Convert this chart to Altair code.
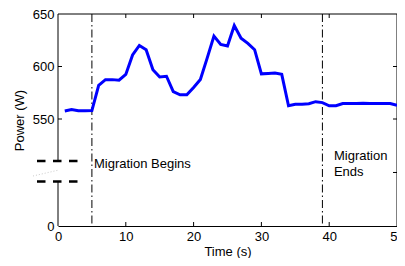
import altair as alt
import pandas as pd

# ---- data ----
time_s = list(range(1, 51))
power_w = [557.6, 559.0, 557.8, 557.8, 558.0, 582.0, 587.5, 587.5, 587.0, 592.5,
           611.0, 620.0, 616.0, 597.0, 590.0, 590.7, 576.0, 573.0, 573.0, 580.0,
           587.6, 608.0, 629.0, 621.0, 619.5, 639.0, 627.0, 622.0, 616.0, 593.0,
           593.3, 593.7, 592.5, 562.6, 564.0, 564.0, 564.5, 566.5, 565.6, 562.6,
           562.6, 564.7, 564.7, 564.7, 565.0, 564.8, 564.7, 564.7, 564.7, 563.0]
event_times = [5, 39]
x_ticks = [0, 10, 20, 30, 40, 50]
y_ticks = [0, 550, 600, 650]
break_low, break_high = 350, 510

W, H = 339, 212
FONT = "Liberation Sans"

df = pd.DataFrame({"t": time_s, "p": power_w})
ev = pd.DataFrame({"t": event_times})

xs = alt.Scale(domain=[0, 50], nice=False, zero=False)
ys = alt.Scale(domain=[0, break_high, 650], range=[H, 147, 0], nice=False, zero=False)

xaxis = alt.Axis(values=x_ticks, grid=False, ticks=False, domain=True, domainColor="black",
                 domainWidth=1, labelFont=FONT, labelFontSize=13, labelColor="black",
                 labelFlush=False, labelPadding=4, title="Time (s)", titleFont=FONT,
                 titleFontSize=13, titleFontWeight="normal", titleColor="black", titlePadding=2)
yaxis = alt.Axis(values=y_ticks, grid=False, ticks=False, domain=False,
                 labelFont=FONT, labelFontSize=13, labelColor="black", labelPadding=4,
                 title="Power (W)", titleFont=FONT, titleFontSize=13,
                 titleFontWeight="normal", titleColor="black", titlePadding=6)

line = alt.Chart(df).mark_line(color="#0000FF", strokeWidth=3).encode(
    x=alt.X("t:Q", scale=xs, axis=xaxis),
    y=alt.Y("p:Q", scale=ys, axis=yaxis),
)

events = alt.Chart(ev).mark_rule(color="black", strokeWidth=1, strokeDash=[8, 3, 1.5, 3]).encode(
    x=alt.X("t:Q", scale=xs)
)

base = alt.Chart(pd.DataFrame({"a": [0]}))

top = base.mark_rule(color="black", strokeWidth=1).encode(y=alt.value(0))
right = base.mark_rule(color="black", strokeWidth=1).encode(x=alt.value(W))
left_hi = base.mark_rule(color="black", strokeWidth=1).encode(
    x=alt.datum(0, scale=xs), y=alt.datum(break_high, scale=ys), y2=alt.datum(650))
left_lo = base.mark_rule(color="black", strokeWidth=1).encode(
    x=alt.datum(0, scale=xs), y=alt.datum(0, scale=ys), y2=alt.datum(break_low))

dash_hi = base.mark_rule(color="black", strokeWidth=2.5, strokeDash=[8.5, 7.5], clip=False).encode(
    x=alt.value(-21), x2=alt.value(20), y=alt.datum(break_high, scale=ys))
dash_lo = base.mark_rule(color="black", strokeWidth=2.5, strokeDash=[8.5, 7.5], clip=False).encode(
    x=alt.value(-21), x2=alt.value(20), y=alt.datum(break_low, scale=ys))
diag = base.mark_rule(color="#bbbbbb", strokeWidth=0.8, strokeDash=[1, 2], clip=False).encode(
    x=alt.value(-25), x2=alt.value(1), y=alt.value(162), y2=alt.value(156))

tick_df = pd.DataFrame({"t": [10, 20, 30, 40]})
tick_b = alt.Chart(tick_df).mark_rule(color="black", strokeWidth=1).encode(
    x=alt.X("t:Q", scale=xs), y=alt.value(H), y2=alt.value(H - 4))
tick_t = alt.Chart(tick_df).mark_rule(color="black", strokeWidth=1).encode(
    x=alt.X("t:Q", scale=xs), y=alt.value(0), y2=alt.value(4))
ytick_df = pd.DataFrame({"p": [550, 600]})
tick_l = alt.Chart(ytick_df).mark_rule(color="black", strokeWidth=1).encode(
    y=alt.Y("p:Q", scale=ys), x=alt.value(0), x2=alt.value(4))
tick_r = alt.Chart(pd.DataFrame({"p": [420, 550, 600]})).mark_rule(color="black", strokeWidth=1).encode(
    y=alt.Y("p:Q", scale=ys), x=alt.value(W), x2=alt.value(W - 4))

txt_begin = base.mark_text(text="Migration Begins", font=FONT, fontSize=13, align="left",
                           baseline="middle", color="black").encode(
    x=alt.datum(5.3, scale=xs), y=alt.value(150))
txt_end = base.mark_text(text=["Migration", "Ends"], font=FONT, fontSize=13, align="left",
                         baseline="middle", color="black", lineHeight=16).encode(
    x=alt.datum(40.7, scale=xs), y=alt.value(142))

chart = alt.layer(
    events, top, right, left_hi, left_lo, dash_hi, dash_lo, diag,
    tick_b, tick_t, tick_l, tick_r, line, txt_begin, txt_end
).properties(
    width=W, height=H,
    padding={"left": 50, "top": 6, "right": 0, "bottom": 32},
    autosize=alt.AutoSizeParams(type="none"),
).configure_view(stroke=None)

chart.save("out.html", embed_options={"renderer": "svg", "actions": False})
